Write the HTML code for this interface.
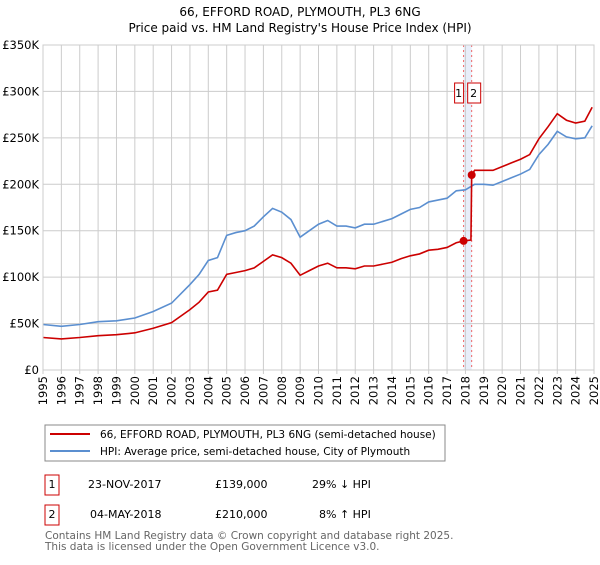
<!DOCTYPE html>
<html><head><meta charset="utf-8"><style>
body{margin:0;background:#fff;font-family:"Liberation Sans","DejaVu Sans",sans-serif}
svg text{font-family:"DejaVu Sans","Liberation Sans",sans-serif}
</style></head><body>
<svg id="c" width="600" height="560">
<text x="300" y="16" text-anchor="middle" font-size="12">66, EFFORD ROAD, PLYMOUTH, PL3 6NG</text>
<text x="300" y="32" text-anchor="middle" font-size="12">Price paid vs. HM Land Registry's House Price Index (HPI)</text>
<g id="grid"></g><g id="marks"></g><g id="axes"></g>
<rect x="45" y="425" width="400" height="36" fill="none" stroke="#888"/>
<line x1="50" y1="434" x2="90" y2="434" stroke="#cc0000" stroke-width="2"/>
<text x="100" y="438" font-size="10.5">66, EFFORD ROAD, PLYMOUTH, PL3 6NG (semi-detached house)</text>
<line x1="50" y1="451" x2="90" y2="451" stroke="#5b8fd0" stroke-width="2"/>
<text x="100" y="455" font-size="10.5">HPI: Average price, semi-detached house, City of Plymouth</text>
<g font-size="11">
<rect x="45" y="475" width="14" height="20" fill="none" stroke="#cc0000"/>
<text x="52" y="488" text-anchor="middle">1</text>
<text x="88" y="488">23-NOV-2017</text><text x="215" y="488">£139,000</text><text x="312" y="488">29% ↓ HPI</text>
<rect x="45" y="505" width="14" height="20" fill="none" stroke="#cc0000"/>
<text x="52" y="518" text-anchor="middle">2</text>
<text x="90" y="518">04-MAY-2018</text><text x="215" y="518">£210,000</text><text x="319" y="518">8% ↑ HPI</text>
</g>
<text x="45" y="539" font-size="10.5" fill="#666">Contains HM Land Registry data © Crown copyright and database right 2025.</text>
<text x="45" y="550" font-size="10.5" fill="#666">This data is licensed under the Open Government Licence v3.0.</text>
</svg>
<script>
const hpiYears=[1995,1996,1997,1998,1999,2000,2001,2002,2003,2003.5,2004,2004.5,2005,2005.5,2006,2006.5,2007,2007.5,2008,2008.5,2009,2009.5,2010,2010.5,2011,2011.5,2012,2012.5,2013,2013.5,2014,2014.5,2015,2015.5,2016,2016.5,2017,2017.5,2018,2018.5,2019,2019.5,2020,2020.5,2021,2021.5,2022,2022.5,2023,2023.5,2024,2024.5,2024.9];
const hpiValues=[49,47,49,52,53,56,63,72,92,103,118,121,145,148,150,155,165,174,170,162,143,150,157,161,155,155,153,157,157,160,163,168,173,175,181,183,185,193,194,200,200,199,203,207,211,216,232,243,257,251,249,250,263];
const priceYears=[1995,1996,1997,1998,1999,2000,2001,2002,2003,2003.5,2004,2004.5,2005,2005.5,2006,2006.5,2007,2007.5,2008,2008.5,2009,2009.5,2010,2010.5,2011,2011.5,2012,2012.5,2013,2013.5,2014,2014.5,2015,2015.5,2016,2016.5,2017,2017.5,2017.9,2018.3,2018.34,2018.5,2019,2019.5,2020,2020.5,2021,2021.5,2022,2022.5,2023,2023.5,2024,2024.5,2024.9];
const priceValues=[35,33.5,35,37,38,40,45,51,65,73,84,86,103,105,107,110,117,124,121,115,102,107,112,115,110,110,109,112,112,114,116,120,123,125,129,130,132,137,139,140,210,215,215,215,219,223,227,232,249,262,276,269,266,268,283];
const saleYears=[2017.9,2018.34];
const saleValues=[139,210];
const saleLabels=["1","2"];
const yTicks=[0,50,100,150,200,250,300,350];
const yTickLabels=["£0","£50K","£100K","£150K","£200K","£250K","£300K","£350K"];
const xTicks=[1995,1996,1997,1998,1999,2000,2001,2002,2003,2004,2005,2006,2007,2008,2009,2010,2011,2012,2013,2014,2015,2016,2017,2018,2019,2020,2021,2022,2023,2024,2025];
const NS="http://www.w3.org/2000/svg";
const X0=43,X1=594,Y0=370,Y1=45;
const xs=y=>X0+(y-1995)/30*(X1-X0);
const ys=v=>Y0-v/350*(Y0-Y1);
function mk(t,a,p){const e=document.createElementNS(NS,t);for(const k in a)e.setAttribute(k,a[k]);p.appendChild(e);return e;}
const grid=document.getElementById('grid'),marks=document.getElementById('marks'),axes=document.getElementById('axes');
const band=mk('rect',{x:xs(saleYears[0]),y:Y1,width:xs(saleYears[1])-xs(saleYears[0]),height:Y0-Y1,fill:'#e8eefa'},grid);


yTicks.forEach((v,i)=>{
 const l=mk('line',{x1:X0,x2:X1,y1:ys(v),y2:ys(v),stroke:'#ccc'},grid);
 
 
 const t=mk('text',{x:X0-4,y:ys(v)+4,'text-anchor':'end','font-size':'11.5'},axes);
 t.textContent=yTickLabels[i];
 
 
});
xTicks.forEach(y=>{
 const l=mk('line',{x1:xs(y),x2:xs(y),y1:Y1,y2:Y0+4,stroke:'#ccc'},grid);
 
 
 const t=mk('text',{x:0,y:0,'text-anchor':'end','font-size':'11.5',transform:`translate(${xs(y)+4},${Y0+6}) rotate(-90)`},axes);
 t.textContent=y;
 
 
});
saleYears.forEach(y=>{
 const l=mk('line',{x1:xs(y),x2:xs(y),y1:Y1,y2:Y0,stroke:'#e66','stroke-dasharray':'2,3'},grid);
 
 
});
const hp=mk('polyline',{points:hpiYears.map((y,i)=>xs(y)+','+ys(hpiValues[i])).join(' '),fill:'none',stroke:'#5b8fd0','stroke-width':1.6},marks);


const pp=mk('polyline',{points:priceYears.map((y,i)=>xs(y)+','+ys(priceValues[i])).join(' '),fill:'none',stroke:'#cc0000','stroke-width':1.6},marks);


saleYears.forEach((y,i)=>{
 const c=mk('circle',{cx:xs(y),cy:ys(saleValues[i]),r:4,fill:'#cc0000'},marks);
 
 
 const bx=i===0?xs(y)-9:xs(y)-4;
 const r=mk('rect',{x:bx,y:83,width:i===0?9:13,height:20,fill:'#fff',stroke:'#cc0000'},marks);
 
 
 const t=mk('text',{x:bx+(i===0?4:6),y:97,'text-anchor':'middle','font-size':'11'},marks);
 t.textContent=saleLabels[i];
 
 
});
const fr=mk('rect',{x:X0,y:Y1,width:X1-X0,height:Y0-Y1,fill:'none',stroke:'#ccc'},axes);


</script>
</body></html>
